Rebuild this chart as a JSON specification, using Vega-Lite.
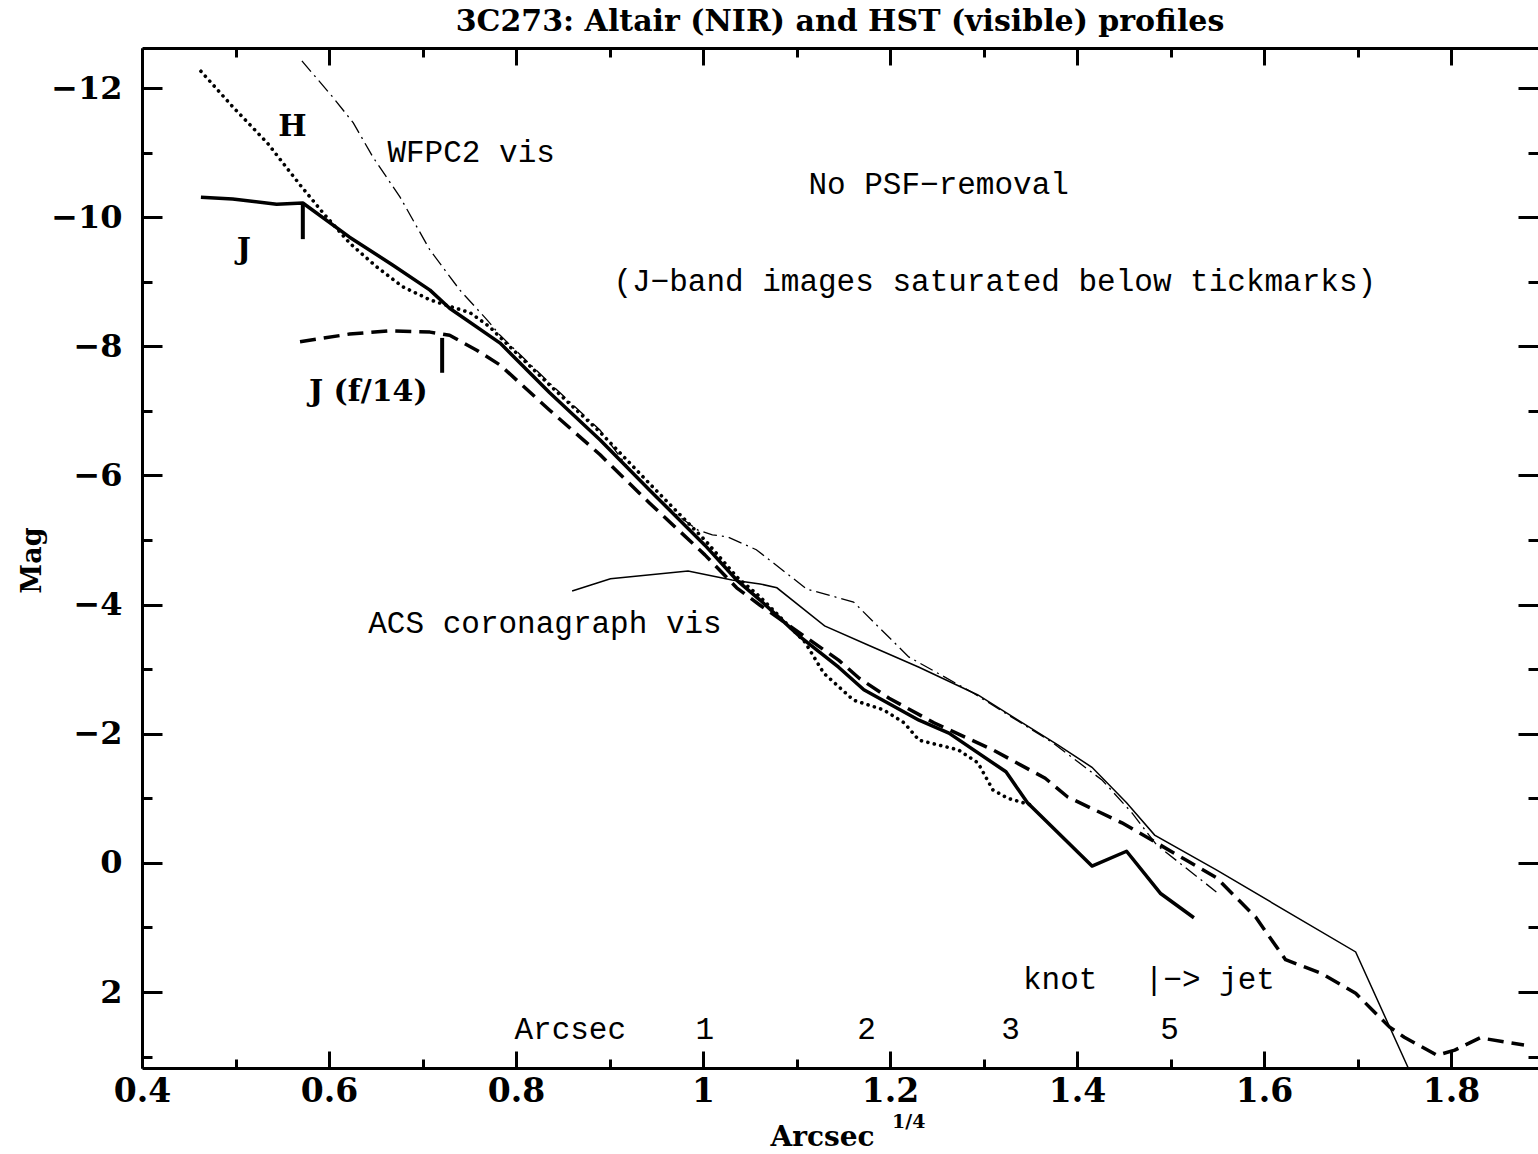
{
  "$schema": "https://vega.github.io/schema/vega-lite/v6.json",
  "autosize": {"type": "none"},
  "padding": {"left": 142, "top": 48, "right": 0, "bottom": 86},
  "width": 1396,
  "height": 1020,
  "background": "white",
  "config": {"view": {"stroke": null}},
  "title": {
    "text": "3C273: Altair (NIR) and HST (visible) profiles",
    "font": "DejaVu Serif",
    "fontSize": 30,
    "fontWeight": "bold",
    "color": "black",
    "anchor": "middle",
    "baseline": "alphabetic",
    "offset": -14
  },
  "datasets": {
    "curves": [
      {"s": "H", "x": 0.463, "y": -12.26},
      {"s": "H", "x": 0.497, "y": -11.71},
      {"s": "H", "x": 0.534, "y": -11.15},
      {"s": "H", "x": 0.569, "y": -10.5},
      {"s": "H", "x": 0.594, "y": -10.06},
      {"s": "H", "x": 0.622, "y": -9.6},
      {"s": "H", "x": 0.651, "y": -9.23},
      {"s": "H", "x": 0.679, "y": -8.92},
      {"s": "H", "x": 0.708, "y": -8.72},
      {"s": "H", "x": 0.729, "y": -8.62},
      {"s": "H", "x": 0.751, "y": -8.52},
      {"s": "H", "x": 0.772, "y": -8.3},
      {"s": "H", "x": 0.783, "y": -8.14},
      {"s": "H", "x": 0.836, "y": -7.4},
      {"s": "H", "x": 0.89, "y": -6.67},
      {"s": "H", "x": 0.943, "y": -5.87},
      {"s": "H", "x": 1.002, "y": -5.0},
      {"s": "H", "x": 1.036, "y": -4.43},
      {"s": "H", "x": 1.061, "y": -4.12},
      {"s": "H", "x": 1.109, "y": -3.42},
      {"s": "H", "x": 1.129, "y": -2.94},
      {"s": "H", "x": 1.161, "y": -2.52},
      {"s": "H", "x": 1.193, "y": -2.37},
      {"s": "H", "x": 1.215, "y": -2.17},
      {"s": "H", "x": 1.231, "y": -1.9},
      {"s": "H", "x": 1.273, "y": -1.75},
      {"s": "H", "x": 1.294, "y": -1.55},
      {"s": "H", "x": 1.31, "y": -1.13},
      {"s": "H", "x": 1.326, "y": -1.0},
      {"s": "H", "x": 1.35, "y": -0.9},

      {"s": "J", "x": 0.463, "y": -10.31},
      {"s": "J", "x": 0.497, "y": -10.28},
      {"s": "J", "x": 0.544, "y": -10.2},
      {"s": "J", "x": 0.572, "y": -10.22},
      {"s": "J", "x": 0.622, "y": -9.69},
      {"s": "J", "x": 0.668, "y": -9.26},
      {"s": "J", "x": 0.708, "y": -8.87},
      {"s": "J", "x": 0.729, "y": -8.59},
      {"s": "J", "x": 0.783, "y": -8.05},
      {"s": "J", "x": 0.836, "y": -7.28},
      {"s": "J", "x": 0.89, "y": -6.55},
      {"s": "J", "x": 0.943, "y": -5.77},
      {"s": "J", "x": 1.002, "y": -4.92},
      {"s": "J", "x": 1.036, "y": -4.38},
      {"s": "J", "x": 1.061, "y": -4.07},
      {"s": "J", "x": 1.104, "y": -3.5},
      {"s": "J", "x": 1.145, "y": -3.03},
      {"s": "J", "x": 1.172, "y": -2.68},
      {"s": "J", "x": 1.231, "y": -2.21},
      {"s": "J", "x": 1.263, "y": -2.01},
      {"s": "J", "x": 1.324, "y": -1.41},
      {"s": "J", "x": 1.347, "y": -0.93},
      {"s": "J", "x": 1.416, "y": 0.05},
      {"s": "J", "x": 1.453, "y": -0.18},
      {"s": "J", "x": 1.489, "y": 0.47},
      {"s": "J", "x": 1.525, "y": 0.85},

      {"s": "Jf14", "x": 0.569, "y": -8.07},
      {"s": "Jf14", "x": 0.622, "y": -8.19},
      {"s": "Jf14", "x": 0.665, "y": -8.24},
      {"s": "Jf14", "x": 0.708, "y": -8.22},
      {"s": "Jf14", "x": 0.729, "y": -8.17},
      {"s": "Jf14", "x": 0.758, "y": -7.94},
      {"s": "Jf14", "x": 0.783, "y": -7.71},
      {"s": "Jf14", "x": 0.836, "y": -7.01},
      {"s": "Jf14", "x": 0.89, "y": -6.32},
      {"s": "Jf14", "x": 0.943, "y": -5.57},
      {"s": "Jf14", "x": 1.002, "y": -4.77},
      {"s": "Jf14", "x": 1.036, "y": -4.26},
      {"s": "Jf14", "x": 1.061, "y": -3.99},
      {"s": "Jf14", "x": 1.145, "y": -3.14},
      {"s": "Jf14", "x": 1.167, "y": -2.86},
      {"s": "Jf14", "x": 1.199, "y": -2.55},
      {"s": "Jf14", "x": 1.247, "y": -2.17},
      {"s": "Jf14", "x": 1.31, "y": -1.75},
      {"s": "Jf14", "x": 1.366, "y": -1.31},
      {"s": "Jf14", "x": 1.39, "y": -1.02},
      {"s": "Jf14", "x": 1.448, "y": -0.62},
      {"s": "Jf14", "x": 1.485, "y": -0.31},
      {"s": "Jf14", "x": 1.517, "y": -0.04},
      {"s": "Jf14", "x": 1.549, "y": 0.23},
      {"s": "Jf14", "x": 1.591, "y": 0.84},
      {"s": "Jf14", "x": 1.623, "y": 1.5},
      {"s": "Jf14", "x": 1.661, "y": 1.71},
      {"s": "Jf14", "x": 1.698, "y": 2.02},
      {"s": "Jf14", "x": 1.734, "y": 2.54},
      {"s": "Jf14", "x": 1.75, "y": 2.7},
      {"s": "Jf14", "x": 1.785, "y": 2.98},
      {"s": "Jf14", "x": 1.804, "y": 2.9},
      {"s": "Jf14", "x": 1.831, "y": 2.71},
      {"s": "Jf14", "x": 1.878, "y": 2.82},

      {"s": "WFPC2", "x": 0.571, "y": -12.42},
      {"s": "WFPC2", "x": 0.604, "y": -11.86},
      {"s": "WFPC2", "x": 0.626, "y": -11.46},
      {"s": "WFPC2", "x": 0.647, "y": -10.93},
      {"s": "WFPC2", "x": 0.676, "y": -10.31},
      {"s": "WFPC2", "x": 0.708, "y": -9.49},
      {"s": "WFPC2", "x": 0.74, "y": -8.87},
      {"s": "WFPC2", "x": 0.769, "y": -8.41},
      {"s": "WFPC2", "x": 0.783, "y": -8.17},
      {"s": "WFPC2", "x": 0.836, "y": -7.43},
      {"s": "WFPC2", "x": 0.89, "y": -6.7},
      {"s": "WFPC2", "x": 0.922, "y": -6.08},
      {"s": "WFPC2", "x": 0.969, "y": -5.42},
      {"s": "WFPC2", "x": 0.995, "y": -5.15},
      {"s": "WFPC2", "x": 1.01, "y": -5.08},
      {"s": "WFPC2", "x": 1.026, "y": -5.05},
      {"s": "WFPC2", "x": 1.057, "y": -4.85},
      {"s": "WFPC2", "x": 1.111, "y": -4.24},
      {"s": "WFPC2", "x": 1.161, "y": -4.04},
      {"s": "WFPC2", "x": 1.188, "y": -3.65},
      {"s": "WFPC2", "x": 1.22, "y": -3.19},
      {"s": "WFPC2", "x": 1.289, "y": -2.63},
      {"s": "WFPC2", "x": 1.374, "y": -1.86},
      {"s": "WFPC2", "x": 1.427, "y": -1.28},
      {"s": "WFPC2", "x": 1.459, "y": -0.77},
      {"s": "WFPC2", "x": 1.485, "y": -0.28},
      {"s": "WFPC2", "x": 1.549, "y": 0.45},

      {"s": "ACS", "x": 0.86, "y": -4.21},
      {"s": "ACS", "x": 0.901, "y": -4.4},
      {"s": "ACS", "x": 0.984, "y": -4.52},
      {"s": "ACS", "x": 1.031, "y": -4.38},
      {"s": "ACS", "x": 1.061, "y": -4.32},
      {"s": "ACS", "x": 1.079, "y": -4.26},
      {"s": "ACS", "x": 1.13, "y": -3.67},
      {"s": "ACS", "x": 1.177, "y": -3.37},
      {"s": "ACS", "x": 1.231, "y": -3.03},
      {"s": "ACS", "x": 1.294, "y": -2.6},
      {"s": "ACS", "x": 1.379, "y": -1.83},
      {"s": "ACS", "x": 1.416, "y": -1.48},
      {"s": "ACS", "x": 1.453, "y": -0.93},
      {"s": "ACS", "x": 1.483, "y": -0.43},
      {"s": "ACS", "x": 1.549, "y": 0.11},
      {"s": "ACS", "x": 1.698, "y": 1.38},
      {"s": "ACS", "x": 1.754, "y": 3.17}
    ],
    "satticks": [
      {"s": "J", "x": 0.572, "y": -10.19, "y2": -9.66},
      {"s": "Jf14", "x": 0.721, "y": -8.13, "y2": -7.59}
    ],
    "plain": [
      {"text": "WFPC2 vis", "x": 0.752, "y": -10.99},
      {"text": "No PSF−removal", "x": 1.252, "y": -10.5},
      {"text": "(J−band images saturated below tickmarks)", "x": 1.312, "y": -9.0},
      {"text": "ACS coronagraph vis", "x": 0.831, "y": -3.7},
      {"text": "knot", "x": 1.382, "y": 1.81},
      {"text": "|−> jet", "x": 1.542, "y": 1.81},
      {"text": "Arcsec", "x": 0.858, "y": 2.59},
      {"text": "1", "x": 1.002, "y": 2.59},
      {"text": "2", "x": 1.175, "y": 2.59},
      {"text": "3", "x": 1.329, "y": 2.59},
      {"text": "5", "x": 1.499, "y": 2.59}
    ],
    "bold": [
      {"text": "H", "x": 0.561, "y": -11.4},
      {"text": "J", "x": 0.509, "y": -9.49},
      {"text": "J (f/14)", "x": 0.642, "y": -7.29}
    ],
    "sup": [
      {"text": "1/4", "x": 1.22, "y": 4.02}
    ]
  },
  "layer": [
    {
      "encoding": {
        "x": {
          "field": "x",
          "type": "quantitative",
          "scale": {"domain": [0.4, 1.893], "nice": false, "zero": false},
          "axis": {
            "orient": "bottom",
            "values": [0.4, 0.5, 0.6, 0.7, 0.8, 0.9, 1.0, 1.1, 1.2, 1.3, 1.4, 1.5, 1.6, 1.7, 1.8],
            "grid": false,
            "domain": true,
            "domainColor": "black",
            "domainWidth": 3,
            "ticks": true,
            "tickColor": "black",
            "tickWidth": 3,
            "tickSize": -17,
            "tickDash": {
              "condition": {"test": "abs(datum.value*5 - round(datum.value*5)) > 0.01", "value": [9, 60]},
              "value": [60, 1]
            },
            "labelExpr": "abs(datum.value*5 - round(datum.value*5)) < 0.01 ? format(datum.value, '~g') : ''",
            "labelFont": "DejaVu Serif",
            "labelFontWeight": "bold",
            "labelFontSize": 33,
            "labelColor": "black",
            "labelPadding": 24,
            "labelBaseline": "top",
            "labelFlush": false,
            "labelOverlap": false,
            "labelBound": false,
            "title": "Arcsec",
            "titleFont": "DejaVu Serif",
            "titleFontWeight": "bold",
            "titleFontSize": 28,
            "titleColor": "black",
            "titleX": 680,
            "titleY": 77,
            "titleAlign": "center",
            "titleBaseline": "alphabetic"
          }
        },
        "y": {
          "field": "y",
          "type": "quantitative",
          "scale": {"domain": [-12.62, 3.177], "nice": false, "zero": false, "reverse": true},
          "axis": {
            "orient": "left",
            "values": [-12, -11, -10, -9, -8, -7, -6, -5, -4, -3, -2, -1, 0, 1, 2, 3],
            "grid": false,
            "domain": true,
            "domainColor": "black",
            "domainWidth": 3,
            "ticks": true,
            "tickColor": "black",
            "tickWidth": 3,
            "tickSize": -20,
            "tickDash": {
              "condition": {"test": "datum.value % 2 != 0", "value": [10, 60]},
              "value": [60, 1]
            },
            "labelExpr": "datum.value % 2 == 0 ? format(datum.value, 'd') : ''",
            "labelFont": "DejaVu Serif",
            "labelFontWeight": "bold",
            "labelFontSize": 32,
            "labelColor": "black",
            "labelPadding": 40,
            "labelFlush": false,
            "labelOverlap": false,
            "labelBound": false,
            "title": "Mag",
            "titleFont": "DejaVu Serif",
            "titleFontWeight": "bold",
            "titleFontSize": 27,
            "titleColor": "black",
            "titleAngle": -90,
            "titleX": -110,
            "titleY": 512,
            "titleAlign": "center",
            "titleBaseline": "middle"
          }
        }
      },
      "layer": [
        {
          "data": {"name": "curves"},
          "transform": [{"filter": "datum.s === 'ACS'"}],
          "mark": {"type": "line", "stroke": "black", "strokeWidth": 1.5, "clip": true},
          "encoding": {}
        },
        {
          "data": {"name": "curves"},
          "transform": [{"filter": "datum.s === 'WFPC2'"}],
          "mark": {"type": "line", "stroke": "black", "strokeWidth": 1.3, "strokeDash": [14, 5, 2, 5]},
          "encoding": {}
        },
        {
          "data": {"name": "curves"},
          "transform": [{"filter": "datum.s === 'Jf14'"}],
          "mark": {"type": "line", "stroke": "black", "strokeWidth": 3.5, "strokeDash": [16, 8], "strokeJoin": "round"},
          "encoding": {}
        },
        {
          "data": {"name": "curves"},
          "transform": [{"filter": "datum.s === 'H'"}],
          "mark": {"type": "line", "stroke": "black", "strokeWidth": 3.6, "strokeDash": [0.1, 6.5], "strokeCap": "round", "strokeJoin": "round"},
          "encoding": {}
        },
        {
          "data": {"name": "curves"},
          "transform": [{"filter": "datum.s === 'J'"}],
          "mark": {"type": "line", "stroke": "black", "strokeWidth": 3.5, "strokeJoin": "round"},
          "encoding": {}
        },
        {
          "data": {"name": "plain"},
          "mark": {"type": "text", "font": "Liberation Mono", "fontSize": 31, "align": "center", "baseline": "middle", "color": "black"},
          "encoding": {"text": {"field": "text"}}
        },
        {
          "data": {"name": "bold"},
          "mark": {"type": "text", "font": "DejaVu Serif", "fontWeight": "bold", "fontSize": 30, "align": "center", "baseline": "middle", "color": "black"},
          "encoding": {"text": {"field": "text"}}
        },
        {
          "data": {"name": "sup"},
          "mark": {"type": "text", "font": "DejaVu Serif", "fontWeight": "bold", "fontSize": 19, "align": "center", "baseline": "middle", "color": "black"},
          "encoding": {"text": {"field": "text"}}
        }
      ]
    },
    {
      "data": {"name": "satticks"},
      "mark": {"type": "rule", "stroke": "black", "strokeWidth": 4},
      "encoding": {
        "x": {
          "field": "x",
          "type": "quantitative",
          "scale": {"domain": [0.4, 1.893], "nice": false, "zero": false},
          "axis": {
            "orient": "top",
            "values": [0.4, 0.5, 0.6, 0.7, 0.8, 0.9, 1.0, 1.1, 1.2, 1.3, 1.4, 1.5, 1.6, 1.7, 1.8],
            "grid": false,
            "domain": true,
            "domainColor": "black",
            "domainWidth": 3,
            "tickColor": "black",
            "tickWidth": 3,
            "tickSize": -17,
            "tickDash": {
              "condition": {"test": "abs(datum.value*5 - round(datum.value*5)) > 0.01", "value": [9, 60]},
              "value": [60, 1]
            },
            "labels": false,
            "title": null
          }
        },
        "y": {
          "field": "y",
          "type": "quantitative",
          "scale": {"domain": [-12.62, 3.177], "nice": false, "zero": false, "reverse": true},
          "axis": {
            "orient": "right",
            "values": [-12, -11, -10, -9, -8, -7, -6, -5, -4, -3, -2, -1, 0, 1, 2, 3],
            "grid": false,
            "domain": false,
            "tickColor": "black",
            "tickWidth": 3,
            "tickSize": -20,
            "tickDash": {
              "condition": {"test": "datum.value % 2 != 0", "value": [10, 60]},
              "value": [60, 1]
            },
            "labels": false,
            "title": null
          }
        },
        "y2": {"field": "y2"}
      }
    }
  ],
  "resolve": {"axis": {"x": "independent", "y": "independent"}}
}
